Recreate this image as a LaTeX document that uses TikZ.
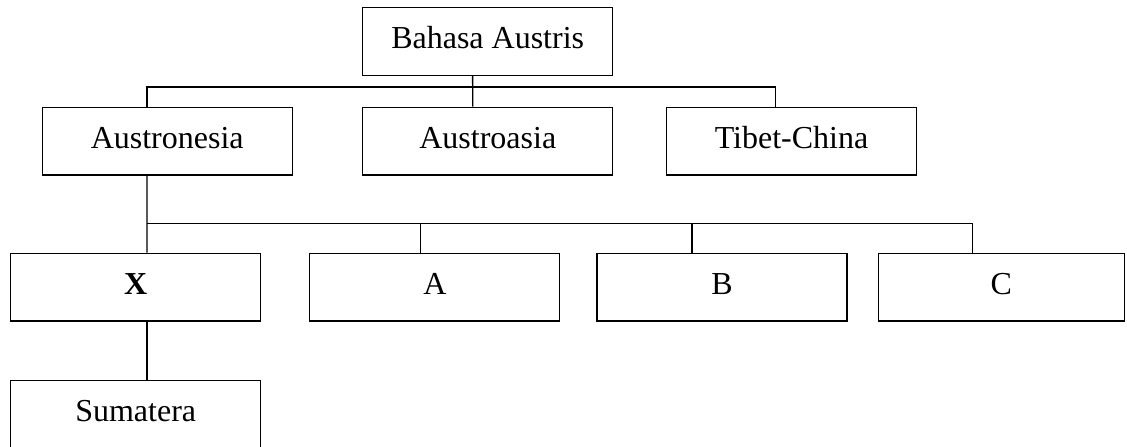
\documentclass[tikz,border=0pt]{standalone}
\usepackage{fontspec}
\setmainfont{Liberation Serif}
\usepackage{tikz}

\begin{document}
\begin{tikzpicture}[x=0.75pt,y=0.75pt,yscale=-1,xscale=1,
  box/.style={draw, line width=1pt, minimum width=187.5pt, minimum height=50.7pt, inner sep=0pt,
    text height=16pt, text depth=5.3pt, font=\fontsize{24}{28}\selectfont},
  link/.style={line width=1pt}]
\useasboundingbox (0,0) rectangle (1127,446);

% Top box
\node [box] (austris) at (487.7,41.5) {Bahasa Austris};
% Second row
\node [box] (austronesia) at (167.2,141.2) {Austronesia};
\node [box] (austroasia) at (487.8,141.2) {Austroasia};
\node [box] (tibet) at (791.5,141.2) {Tibet-China};
% Third row
\node [box] (x) at (135.7,287.2) {\textbf{X}};
\node [box] (a) at (434.8,287.2) {A};
\node [box] (b) at (722,287.2) {B};
\node [box, minimum width=184.5pt] (c) at (1001.2,287.2) {C};
% Bottom box
\node [box] (sumatera) at (135.7,414) {Sumatera};

% Lines from top box
\draw [link] ([xshift=-11.3pt]austris.south) -- ([xshift=-11.3pt]austroasia.north);
\draw [link] ([xshift=-15.1pt]austronesia.north) -- ++(0,-19.6) -| ([xshift=-12.2pt]tibet.north);
% Lines from Austronesia
\draw [link] ([xshift=-15.1pt]austronesia.south) -- ([xshift=8.5pt]x.north);
\draw [link] ([xshift=8.5pt]x.north) ++(0,-29.3) -| ([xshift=-21.7pt]c.north);
\draw [link] ([xshift=-10.8pt]a.north) -- ++(0,-29.3);
\draw [link] ([xshift=-22.5pt]b.north) -- ++(0,-29.3);
% Line to Sumatera
\draw [link] ([xshift=8.5pt]x.south) -- ([xshift=8.5pt]sumatera.north);

\end{tikzpicture}
\end{document}
